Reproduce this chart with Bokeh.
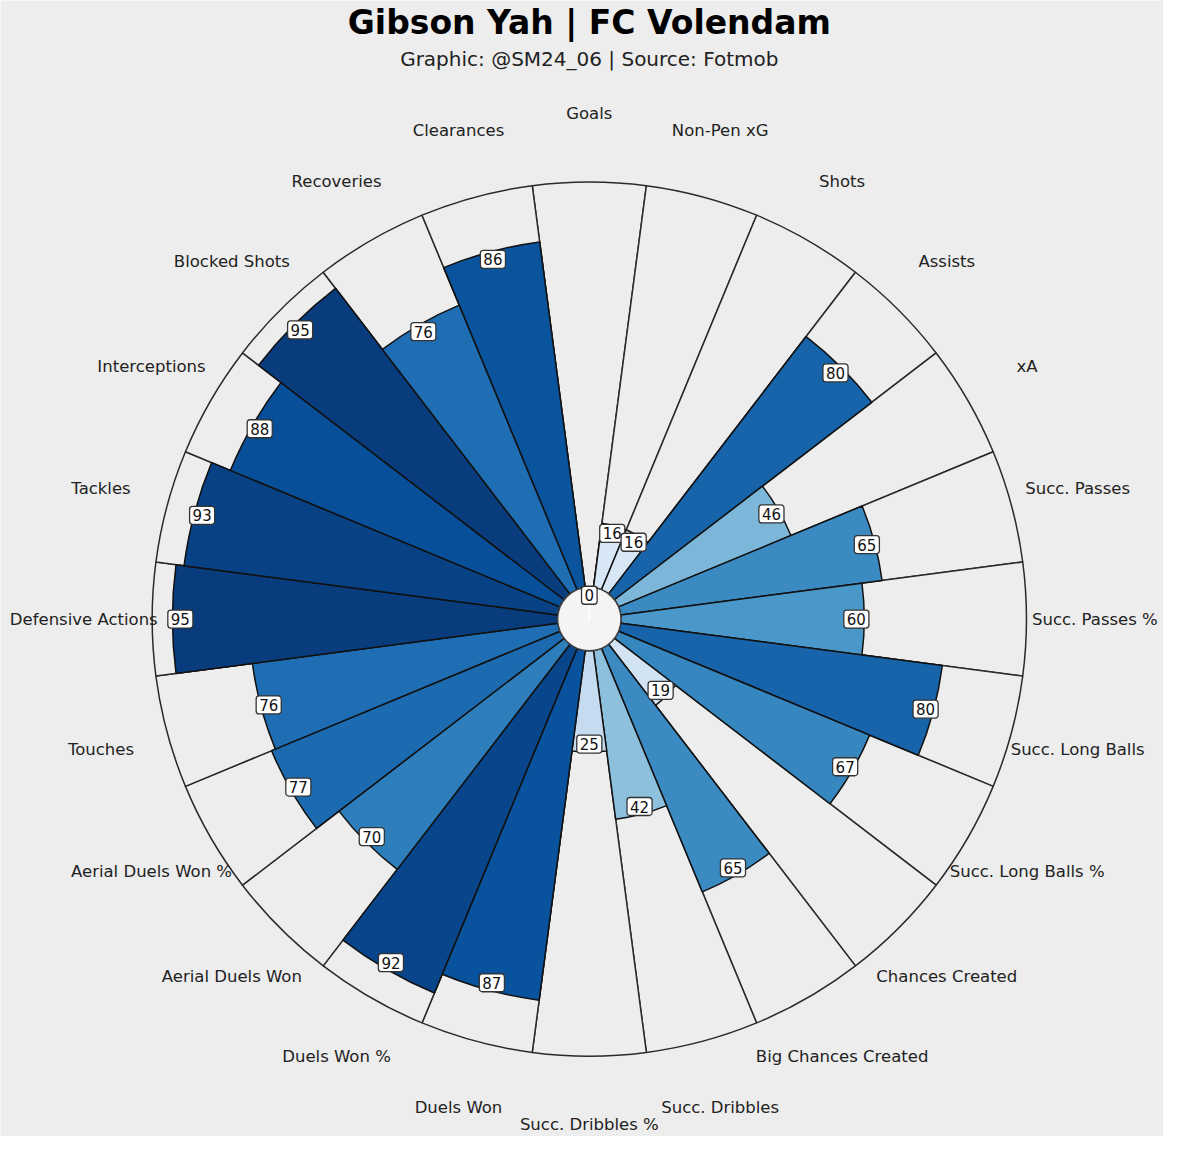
import numpy as np
from bokeh.plotting import figure
from bokeh.models import Range1d, ColumnDataSource
from bokeh.transform import linear_cmap
from bokeh.palettes import Blues256
from bokeh.core.properties import value
from bokeh.embed import file_html
from bokeh.resources import INLINE

# ---- data ----
params = ["Goals", "Non-Pen xG", "Shots", "Assists", "xA", "Succ. Passes",
          "Succ. Passes %", "Succ. Long Balls", "Succ. Long Balls %",
          "Chances Created", "Big Chances Created", "Succ. Dribbles",
          "Succ. Dribbles %", "Duels Won", "Duels Won %", "Aerial Duels Won",
          "Aerial Duels Won %", "Touches", "Defensive Actions", "Tackles",
          "Interceptions", "Blocked Shots", "Recoveries", "Clearances"]
values = [0, 16, 16, 80, 46, 65, 60, 80, 67, 19, 65, 42, 25, 87, 92, 70, 77,
          76, 95, 93, 88, 95, 76, 86]
title_text = "Gibson Yah | FC Volendam"
subtitle_text = "Graphic: @SM24_06 | Source: Fotmob"

# ---- layout constants ----
BG = "#ededed"
HOLE = 32
R = 441
LABEL_R = 510
FONT = "DejaVu Sans"

n = len(params)
step = 360.0 / n
centers = np.array([90 - step * i for i in range(n)])
starts = np.deg2rad(centers - step / 2)
ends = np.deg2rad(centers + step / 2)
vals = np.array(values, dtype=float)
radii = HOLE + vals / 100.0 * (R - HOLE)
theta = np.deg2rad(centers)

src = ColumnDataSource(dict(
    start=starts, end=ends, r=radii, v=vals,
    vtxt=[str(v) for v in values],
    vx=(radii - 8) * np.cos(theta), vy=(radii - 8) * np.sin(theta),
    lx=LABEL_R * np.cos(theta), ly=LABEL_R * np.sin(theta),
    name=params,
))

W, H = 1163, 1136
scale = H / 1146.0
p = figure(width=W, height=H, output_backend="svg", toolbar_location=None,
           x_range=Range1d(-594, -594 + W / scale),
           y_range=Range1d(624 - 1146, 624),
           min_border=0, background_fill_color=BG, border_fill_color=BG,
           outline_line_color=None)
p.axis.visible = False
p.grid.visible = False

# background slices
p.annular_wedge(x=0, y=0, inner_radius=HOLE, outer_radius=R,
                start_angle="start", end_angle="end", source=src,
                fill_color=BG, line_color="#2a2a2a", line_width=1.5)
# value slices
p.annular_wedge(x=0, y=0, inner_radius=HOLE, outer_radius="r",
                start_angle="start", end_angle="end", source=src,
                fill_color=linear_cmap("v", Blues256[::-1], 0, 100),
                line_color="#111111", line_width=1.5)
# centre hole
p.circle(x=[0], y=[0], radius=HOLE, fill_color="#f4f4f4",
         line_color="#444444", line_width=1.5)
p.segment(x0=[0], y0=[0], x1=[0], y1=[24], line_color="white", line_width=2)

# value labels
p.text(x="vx", y="vy", text="vtxt", source=src, text_align="center",
       text_baseline="middle", text_font=value(FONT), text_font_size="15px",
       text_color="#111111", background_fill_color="white",
       border_line_color="#333333", border_line_width=1.3, padding=3,
       border_radius=3)

# parameter labels
p.text(x="lx", y="ly", text="name", source=src, text_align="center",
       text_baseline="middle", text_font=value(FONT), text_font_size="16.5px",
       text_color="#222222")

# titles
p.text(x=[0], y=[602], text=[title_text], text_align="center",
       text_baseline="middle", text_font=value(FONT), text_font_size="33px",
       text_font_style="bold", text_color="#000000")
p.text(x=[0], y=[565], text=[subtitle_text], text_align="center",
       text_baseline="middle", text_font=value(FONT), text_font_size="20px",
       text_color="#222222")

open("out.html", "w").write(file_html(p, INLINE))
